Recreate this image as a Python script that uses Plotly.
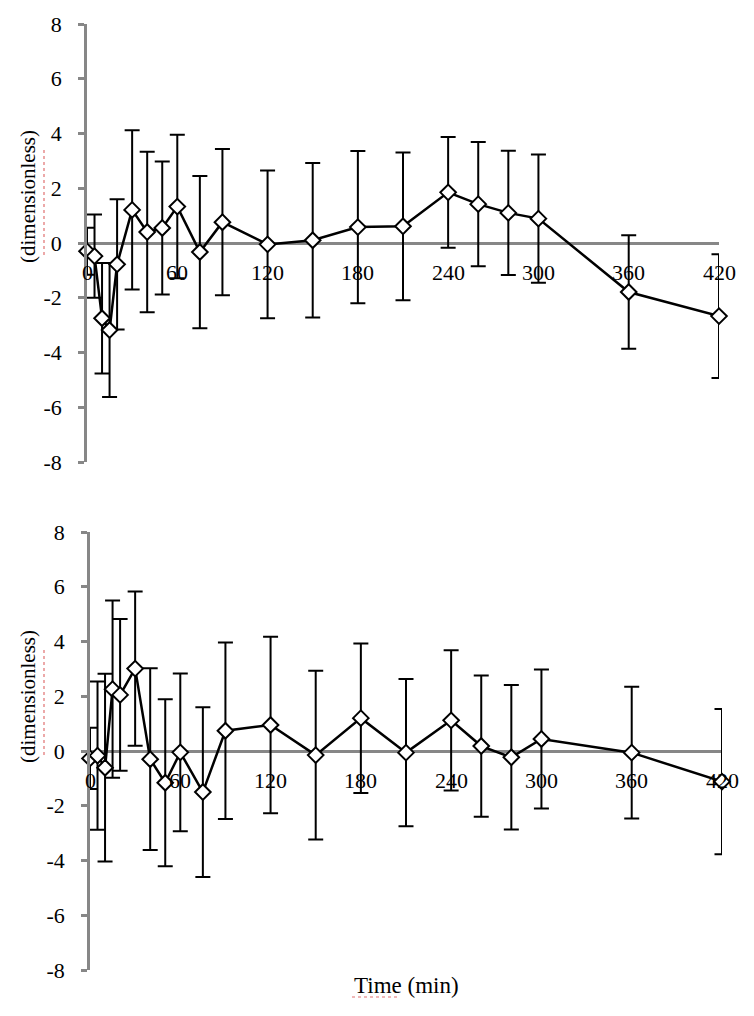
import plotly.graph_objects as go

# page body has an 8px margin; figure sized to fit exactly inside the 754x1016 window
OFF = 8
W, H = 754 - 2 * OFF, 1016 - 2 * OFF


def px(x):
    return (x - OFF) / W


def py(y):
    return 1 - (y - OFF) / H


times = [0, 5, 10, 15, 20, 30, 40, 50, 60, 75, 90, 120, 150, 180, 210, 240, 260, 280, 300, 360, 420]
top_values = [-0.30, -0.48, -2.75, -3.18, -0.78, 1.21, 0.40, 0.55, 1.33, -0.33, 0.76,
              -0.05, 0.10, 0.58, 0.61, 1.85, 1.42, 1.10, 0.89, -1.79, -2.67]
top_errors = [0.86, 1.52, 2.02, 2.45, 2.38, 2.91, 2.93, 2.43, 2.62, 2.78, 2.67,
              2.70, 2.82, 2.78, 2.70, 2.02, 2.27, 2.27, 2.34, 2.07, 2.26]
bottom_values = [-0.27, -0.17, -0.61, 2.26, 2.05, 3.01, -0.30, -1.16, -0.05, -1.50, 0.74,
                 0.95, -0.15, 1.20, -0.06, 1.12, 0.18, -0.23, 0.44, -0.06, -1.12]
bottom_errors = [1.12, 2.71, 3.43, 3.24, 2.77, 2.82, 3.32, 3.05, 2.88, 3.10, 3.22,
                 3.22, 3.08, 2.73, 2.69, 2.56, 2.58, 2.64, 2.54, 2.41, 2.65]
x_ticks = [0, 60, 120, 180, 240, 300, 360, 420]
y_ticks = [-8, -6, -4, -2, 0, 2, 4, 6, 8]
y_title = "(dimensionless)"
x_title = "Time (min)"

FONT = "Liberation Serif, Times New Roman, serif"
GRAY = "#878787"
SQUIGGLE = "#e07070"

fig = go.Figure()

panels = [
    dict(vals=top_values, errs=top_errors, xa="x", ya="y",
         xdom=[px(87), px(719)], ydom=[py(462), py(24)], title_y=197),
    dict(vals=bottom_values, errs=bottom_errors, xa="x2", ya="y2",
         xdom=[px(90), px(722)], ydom=[py(970), py(532)], title_y=697),
]

for i, p in enumerate(panels):
    fig.add_trace(go.Scatter(
        x=times, y=p["vals"], xaxis=p["xa"], yaxis=p["ya"],
        mode="lines+markers", cliponaxis=False, showlegend=False,
        line=dict(color="black", width=2.5),
        marker=dict(symbol="diamond", size=12, color="white",
                    line=dict(color="black", width=2)),
        error_y=dict(type="data", array=p["errs"], visible=True,
                     color="black", thickness=2, width=7.5),
    ))
    suffix = "" if i == 0 else "2"
    fig.update_layout(**{
        "xaxis" + suffix: dict(domain=p["xdom"], range=[0, 420], anchor="y" + suffix,
                               showline=False, zeroline=False, showgrid=False,
                               showticklabels=False, ticks="", automargin=False),
        "yaxis" + suffix: dict(domain=p["ydom"], range=[-8, 8], anchor="x" + suffix,
                               tickvals=y_ticks, ticktext=[str(v) for v in y_ticks],
                               showline=True, linecolor=GRAY, linewidth=2.5,
                               ticks="outside", ticklen=6, tickwidth=2.5, tickcolor=GRAY,
                               ticklabelstandoff=12, automargin=False,
                               zeroline=True, zerolinecolor=GRAY, zerolinewidth=2.5,
                               showgrid=False,
                               tickfont=dict(family=FONT, size=22, color="black")),
    })
    for t in x_ticks:
        fig.add_annotation(x=t, y=0, xref=p["xa"], yref=p["ya"], text=str(t),
                           showarrow=False, yanchor="middle", yshift=-29,
                           font=dict(family=FONT, size=22, color="black"))
    fig.add_annotation(x=px(28), y=py(p["title_y"]), xref="paper", yref="paper",
                       xanchor="center", yanchor="middle",
                       text=y_title, textangle=-90, showarrow=False,
                       font=dict(family=FONT, size=21, color="black"))
    # spell-check style underline under "dimensionless"
    fig.add_shape(type="line", xref="paper", yref="paper",
                  x0=px(44), x1=px(44), y0=py(p["title_y"] - 47), y1=py(p["title_y"] + 61),
                  line=dict(color=SQUIGGLE, width=1.2, dash="dot"))

fig.add_annotation(x=px(406), y=py(985), xref="paper", yref="paper",
                   xanchor="center", yanchor="middle",
                   text=x_title, showarrow=False,
                   font=dict(family=FONT, size=23, color="black"))
fig.add_shape(type="line", xref="paper", yref="paper",
              x0=px(352), x1=px(398), y0=py(997), y1=py(997),
              line=dict(color=SQUIGGLE, width=1.2, dash="dot"))

fig.update_layout(width=W, height=H,
                  margin=dict(l=0, r=0, t=0, b=0, pad=0, autoexpand=False),
                  paper_bgcolor="white", plot_bgcolor="white")

fig.write_html("out.html")
